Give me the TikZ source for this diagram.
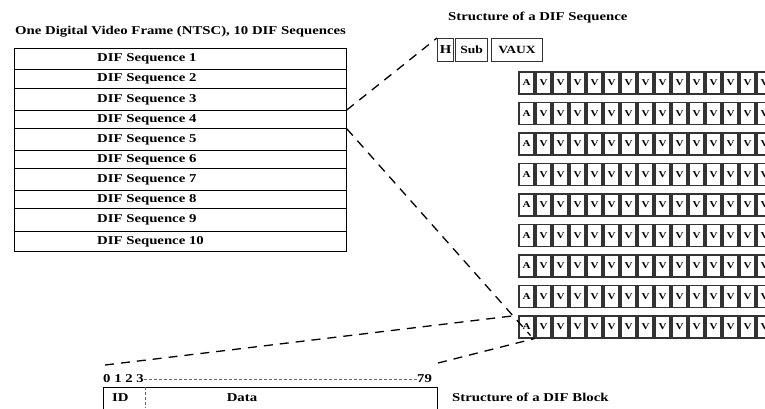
\documentclass[tikz,border=0pt]{standalone}
\usepackage{fontspec}
\setmainfont{Liberation Serif}[FakeStretch=1.23]
\begin{document}
\begin{tikzpicture}[x=1pt,y=-1pt,
  lbl/.style={font=\bfseries\fontsize{12}{14}\selectfont, inner sep=0pt},
  seqrow/.style={draw, line width=0.8pt, minimum width=332pt, inner sep=0pt, anchor=north west},
  cell/.style={draw=black!80, line width=1.1pt, minimum width=15pt, minimum height=22pt, inner sep=0pt, font=\bfseries\fontsize{9}{10}\selectfont},
  hbox/.style={draw=black!80, line width=1.1pt, minimum height=23pt, inner sep=0pt, anchor=north west, font=\bfseries\fontsize{11}{12}\selectfont},
  zoomline/.style={dashed, dash pattern=on 9pt off 7pt, line width=1.3pt},
  fine/.style={draw=black!60, line width=0.5pt, dash pattern=on 3pt off 2pt}]
\useasboundingbox (0,0) rectangle (765,408);
\clip (0,0) rectangle (765,408);
% left table
\node[lbl, anchor=west] (title) at (15,32) {One Digital Video Frame (NTSC), 10 DIF Sequences};
\foreach \k/\t/\b in {1/48/69,2/69/88,3/88/110,4/110/128,5/128/150,6/150/168,7/168/190,8/190/208,9/208/231,10/231/251}{
  \pgfmathsetmacro{\h}{\b-\t}
  \node[seqrow, minimum height=\h pt] (row\k) at (14,\t) {};
  \node[lbl, anchor=west] (t\k) at ([xshift=83pt]row\k.west) {DIF Sequence \k};
}
% sequence structure
\node[lbl, anchor=west] (seqtitle) at (448,18) {Structure of a DIF Sequence};
\node[hbox, minimum width=16pt, font=\bfseries\fontsize{12}{12}\selectfont] (h) at (437,38) {H};
\node[hbox, minimum width=32pt] (sub) at (455,38) {Sub};
\node[hbox, minimum width=51pt] (vaux) at (491,38) {VAUX};
\foreach \r in {0,...,8}{
  \foreach \c in {0,...,14}{
    \pgfmathsetmacro{\xx}{526.5+17*\c}
    \pgfmathsetmacro{\yy}{83+30.5*\r}
    \ifnum\c=0
      \node[cell] (a\r-\c) at (\xx,\yy) {A};
    \else
      \node[cell] (a\r-\c) at (\xx,\yy) {V};
    \fi
  }
}
% block structure
\node[lbl, anchor=west] (digits) at (103,379) {0 1 2 3};
\node[lbl, anchor=west] (n79) at (417,379) {79};
\draw[fine] (digits.east) -- (n79.west);
\node[draw, line width=0.8pt, anchor=north west, minimum width=334pt, minimum height=40pt, inner sep=0pt] (block) at (103,387) {};
\node[lbl, anchor=west] (id) at (112,398) {ID};
\node[lbl] (data) at (242,398) {Data};
\coordinate (dv) at (145,387);
\coordinate (dvb) at (145,408);
\draw[fine] (dv) -- (dvb);
\node[lbl, anchor=west] (blocktitle) at (452,397) {Structure of a DIF Block};
% zoom lines
\coordinate (c1) at (105,365);
\coordinate (c2) at (438,363);
\draw[zoomline] (row4.north east) -- (h.north west);
\draw[zoomline] (row4.south east) -- ([xshift=-4pt,yshift=3pt]a8-0.south east);
\draw[zoomline] (c1) -- ([xshift=-2pt]a8-0.north west);
\draw[zoomline] (c2) -- (a8-0.south east);
\end{tikzpicture}
\end{document}
